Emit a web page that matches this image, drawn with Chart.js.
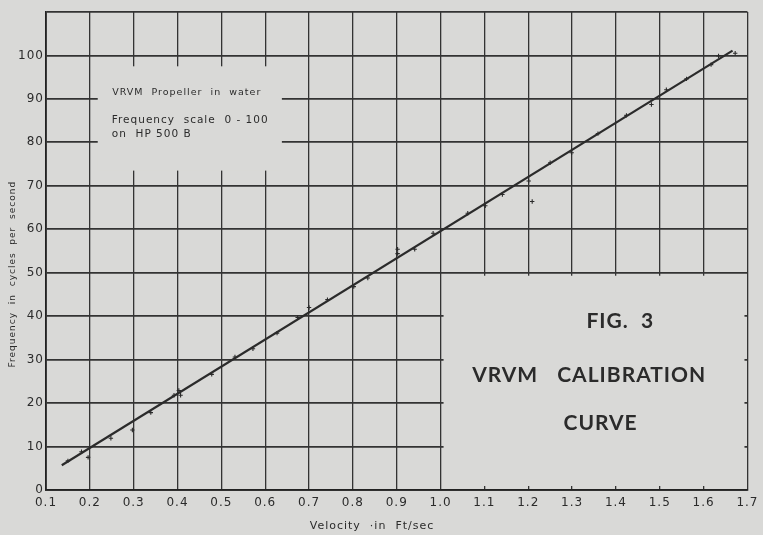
<!DOCTYPE html>
<html><head><meta charset="utf-8">
<script src="https://cdn.jsdelivr.net/npm/chart.js@4/dist/chart.umd.min.js"></script>
<style>html,body{margin:0;padding:0;background:#d9d9d7;}</style>
</head><body>
<canvas id="c" width="763" height="535" style="display:block;width:763px;height:535px"></canvas>
<script>
// ---- data ----
const xTickValues = [0.1,0.2,0.3,0.4,0.5,0.6,0.7,0.8,0.9,1.0,1.1,1.2,1.3,1.4,1.5,1.6,1.7];
const xTickLabels = ['0.1','0.2','0.3','0.4','0.5','0.6','0.7','0.8','0.9','1.0','1.1','1.2','1.3','1.4','1.5','1.6','1.7'];
const yTickLabels = ['0','10','20','30','40','50','60','70','80','90','100',''];
// calibration line end points
const lineX = [0.136, 1.666];
const lineY = [5.7, 101.1];
// measured points
const pointX = [0.150,0.181,0.196,0.248,0.297,0.339,0.392,0.403,0.407,0.478,0.531,0.572,0.627,0.674,0.700,0.742,0.802,0.834,0.902,0.902,0.941,0.983,1.062,1.102,1.141,1.201,1.209,1.250,1.299,1.359,1.424,1.481,1.515,1.561,1.617,1.634,1.672];
const pointY = [6.7,8.8,7.5,11.9,13.8,17.8,21.8,22.9,21.8,26.6,30.6,32.5,36.1,39.7,42.0,43.8,46.8,48.8,55.4,54.4,55.4,59.1,63.7,65.4,68.0,71.1,66.4,75.3,77.6,82.0,86.2,88.7,92.1,94.6,97.9,99.9,100.5];
const noteLines = ['VRVM  Propeller  in  water', 'Frequency  scale  0 - 100', 'on  HP 500 B'];
const figLines = ['FIG.  3', 'VRVM', 'CALIBRATION', 'CURVE'];
const xTitle = 'Velocity  \u00b7in  Ft/sec';
const yTitle = 'Frequency  in  cycles  per  second';

const BG = '#d9d9d7';
const INK = '#2b2b2b';

const paper = {
  id: 'paper',
  beforeDraw(chart) {
    const c = chart.ctx;
    c.fillStyle = BG;
    c.fillRect(0, 0, chart.width, chart.height);
    try { c.letterSpacing = '1px'; } catch (e) {}
  },
  beforeDatasetsDraw(chart) {
    const { ctx, scales: { x, y } } = chart;
    ctx.save();
    ctx.fillStyle = BG;
    // blank box lower right (keeps small stubs at edges)
    let l = x.getPixelForValue(1.0) + 3, r = x.getPixelForValue(1.7) - 3;
    let t = y.getPixelForValue(50) + 3, b = y.getPixelForValue(0) - 4;
    ctx.fillRect(l, t, r - l, b - t);
    // blank note box upper left
    l = x.getPixelForValue(0.218); r = x.getPixelForValue(0.638);
    t = y.getPixelForValue(97.5); b = y.getPixelForValue(73.5);
    ctx.fillRect(l, t, r - l, b - t);

    ctx.fillStyle = INK;
    ctx.textBaseline = 'middle';
    try { ctx.letterSpacing = '1px'; } catch (e) {}
    ctx.textAlign = 'left';
    ctx.font = '9.5px "DejaVu Sans"';
    ctx.fillText(noteLines[0], x.getPixelForValue(0.251), y.getPixelForValue(91.5));
    ctx.font = '10.5px "DejaVu Sans"';
    ctx.fillText(noteLines[1], x.getPixelForValue(0.250), y.getPixelForValue(85.1));
    ctx.fillText(noteLines[2], x.getPixelForValue(0.250), y.getPixelForValue(81.9));

    ctx.font = 'bold 21px Lato';
    ctx.textAlign = 'center';
    ctx.fillText(figLines[0], x.getPixelForValue(1.41), y.getPixelForValue(38.8));
    ctx.textAlign = 'left';
    ctx.fillText(figLines[1], x.getPixelForValue(1.072), y.getPixelForValue(26.4));
    ctx.fillText(figLines[2], x.getPixelForValue(1.266), y.getPixelForValue(26.4));
    ctx.textAlign = 'center';
    ctx.fillText(figLines[3], x.getPixelForValue(1.365), y.getPixelForValue(15.4));
    ctx.restore();
  }
};

new Chart(document.getElementById('c'), {
  type: 'scatter',
  data: {
    datasets: [
      {
        label: 'Calibration',
        data: lineX.map((v, i) => ({ x: v, y: lineY[i] })),
        showLine: true,
        borderColor: INK,
        borderWidth: 2.2,
        pointRadius: 0,
        order: 2
      },
      {
        label: 'Measured',
        data: pointX.map((v, i) => ({ x: v, y: pointY[i] })),
        showLine: false,
        pointStyle: 'cross',
        pointRadius: 2.2,
        pointBorderWidth: 1.1,
        borderColor: INK,
        backgroundColor: INK,
        order: 1
      }
    ]
  },
  options: {
    responsive: false,
    animation: false,
    devicePixelRatio: 1,
    layout: { padding: { left: 0, right: 9, top: 12, bottom: 0 } },
    plugins: { legend: { display: false }, tooltip: { enabled: false } },
    scales: {
      x: {
        type: 'linear', min: 0.1, max: 1.7,
        afterBuildTicks: s => { s.ticks = xTickValues.map(v => ({ value: v })); },
        afterFit: s => { s.height = 45; },
        ticks: {
          autoSkip: false, maxRotation: 0, padding: 6, color: INK,
          font: { family: 'DejaVu Sans', size: 12 },
          callback: (v, i) => xTickLabels[i]
        },
        grid: { color: '#333', lineWidth: 1.3, drawTicks: false },
        border: { display: true, color: '#222', width: 1.8 },
        title: {
          display: true, text: xTitle + '           ', color: INK,
          font: { family: 'DejaVu Sans', size: 11 }, padding: { top: 0, bottom: 2 }
        }
      },
      y: {
        type: 'linear', min: 0, max: 110,
        ticks: {
          stepSize: 10, padding: 2, color: INK,
          font: { family: 'DejaVu Sans', size: 12 },
          callback: (v, i) => yTickLabels[i]
        },
        afterFit: s => { s.width = 46; },
        grid: { color: '#333', lineWidth: 1.8, drawTicks: false },
        border: { display: true, color: '#222', width: 1.8 },
        title: {
          display: true, text: yTitle + '            ', color: INK,
          font: { family: 'DejaVu Sans', size: 9 }, padding: { top: 7, bottom: 0 }
        }
      }
    }
  },
  plugins: [paper]
});
</script>
</body></html>
